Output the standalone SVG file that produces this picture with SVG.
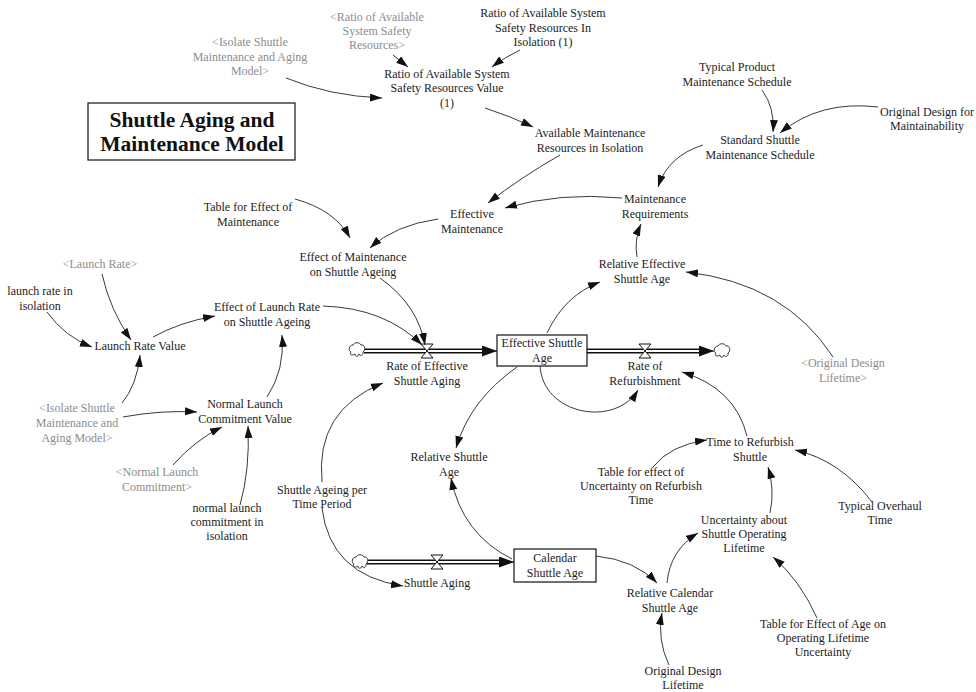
<svg xmlns="http://www.w3.org/2000/svg" width="976" height="692" viewBox="0 0 976 692" font-family="'Liberation Serif', 'Times New Roman', 'DejaVu Serif', serif">
<style>
.t{font-family:'Liberation Serif','Times New Roman','DejaVu Serif',serif;font-size:12px;fill:#1c1c1c;text-anchor:middle}
.g{fill:#8c8c8c}
.title{font-family:'Liberation Serif','Times New Roman','DejaVu Serif',serif;font-size:21.5px;font-weight:bold;fill:#111;text-anchor:middle}
.c{fill:none;stroke:#3a3a3a;stroke-width:1;marker-end:url(#ah)}
.pipeo{fill:none;stroke:#111;stroke-width:5}
.pipei{fill:none;stroke:#fff;stroke-width:2.2}
.box{fill:#fff;stroke:#111;stroke-width:1.2}
.valve{fill:#fff;stroke:#111;stroke-width:1}
.cloud{fill:#fff;stroke:#333;stroke-width:1}
</style>
<defs>
<marker id="ah" markerUnits="userSpaceOnUse" markerWidth="13" markerHeight="9" refX="12" refY="4" orient="auto">
<path d="M0,0 L12,4 L0,8 z" fill="#111"/>
</marker>
<marker id="fh" markerUnits="userSpaceOnUse" markerWidth="16" markerHeight="12" refX="15" refY="5.5" orient="auto">
<path d="M0,0 L15,5.5 L0,11 z" fill="#111"/>
</marker>
<path id="cl" d="M-6,2 C-9,1 -8,-5 -4,-5 C-3,-8 3,-8 4,-5 C8,-6 9,0 6,2 C7,5 3,7 2,4 C1,7 -2,7 -2,4 C-5,6 -8,5 -6,2 z"/>
<path id="vl" d="M-6,-7 L6,-7 L-6,7 L6,7 z"/>
</defs>
<rect width="976" height="692" fill="#fff"/>

<g id="title">
<rect x="88" y="103" width="207" height="57" fill="#fff" stroke="#111" stroke-width="1.2"/>
<text class="title" x="192" y="127">Shuttle Aging and</text>
<text class="title" x="192" y="151">Maintenance Model</text>
</g>

<g id="flows">
<line class="pipeo" x1="364" y1="351" x2="485" y2="351"/>
<line class="pipei" x1="362" y1="351" x2="487" y2="351"/>
<line x1="484" y1="351" x2="497" y2="351" stroke="#111" stroke-width="1" marker-end="url(#fh)"/>
<line class="pipeo" x1="587" y1="351" x2="700" y2="351"/>
<line class="pipei" x1="585" y1="351" x2="702" y2="351"/>
<line x1="699" y1="351" x2="714" y2="351" stroke="#111" stroke-width="1" marker-end="url(#fh)"/>
<line class="pipeo" x1="367" y1="562" x2="502" y2="562"/>
<line class="pipei" x1="365" y1="562" x2="504" y2="562"/>
<line x1="501" y1="562" x2="514" y2="562" stroke="#111" stroke-width="1" marker-end="url(#fh)"/>
<use href="#cl" class="cloud" x="357" y="350"/>
<use href="#cl" class="cloud" x="722" y="351"/>
<use href="#cl" class="cloud" x="360" y="562"/>
<use href="#vl" class="valve" x="427" y="351"/>
<use href="#vl" class="valve" x="645" y="351"/>
<use href="#vl" class="valve" x="437" y="562"/>
</g>

<g id="connectors">
<path class="c" d="M393,55 L408,67"/>
<path class="c" d="M520,50 Q505,57 492,67"/>
<path class="c" d="M286,78 Q330,96 382,98"/>
<path class="c" d="M485,108 Q510,116 533,127"/>
<path class="c" d="M560,155 Q520,178 488,203"/>
<path class="c" d="M622,198 Q560,192 505,208"/>
<path class="c" d="M703,145 Q668,156 658,187"/>
<path class="c" d="M762,90 Q775,108 773,132"/>
<path class="c" d="M878,107 Q820,100 780,133"/>
<path class="c" d="M637,257 Q634,240 641,224"/>
<path class="c" d="M547,333 Q565,295 600,282"/>
<path class="c" d="M833,357 Q785,283 686,272"/>
<path class="c" d="M540,365 C542,415 615,428 638,390"/>
<path class="c" d="M747,436 Q735,388 682,372"/>
<path class="c" d="M517,367 Q470,400 456,448"/>
<path class="c" d="M512,559 Q462,534 451,478"/>
<path class="c" d="M322,482 Q315,410 383,383"/>
<path class="c" d="M322,508 Q330,575 403,586"/>
<path class="c" d="M596,556 Q635,560 657,583"/>
<path class="c" d="M667,583 Q670,550 698,533"/>
<path class="c" d="M669,665 Q657,640 662,613"/>
<path class="c" d="M817,618 Q800,580 773,557"/>
<path class="c" d="M770,513 Q775,490 768,467"/>
<path class="c" d="M872,502 Q840,460 795,450"/>
<path class="c" d="M653,467 Q670,445 707,440"/>
<path class="c" d="M295,199 Q335,210 350,238"/>
<path class="c" d="M438,219 Q395,225 370,248"/>
<path class="c" d="M380,278 Q418,305 425,345"/>
<path class="c" d="M323,306 Q385,308 422,345"/>
<path class="c" d="M102,274 Q110,310 131,340"/>
<path class="c" d="M47,312 Q65,337 92,347"/>
<path class="c" d="M153,337 Q180,322 215,316"/>
<path class="c" d="M122,403 Q137,385 140,355"/>
<path class="c" d="M123,417 Q160,410 197,412"/>
<path class="c" d="M173,465 Q195,440 222,427"/>
<path class="c" d="M240,505 Q250,470 248,426"/>
<path class="c" d="M267,397 Q285,370 282,335"/>
</g>

<g id="ratio-shadow"><text class="t g" x="377" y="21"><tspan x="377">&lt;Ratio of Available</tspan><tspan x="377" dy="14">System Safety</tspan><tspan x="377" dy="14">Resources&gt;</tspan></text></g>
<g id="ratio-isolation"><text class="t" x="543" y="17"><tspan x="543">Ratio of Available System</tspan><tspan x="543" dy="14.5">Safety Resources In</tspan><tspan x="543" dy="14.5">Isolation (1)</tspan></text></g>
<g id="isolate-shadow-1"><text class="t g" x="250" y="46"><tspan x="250">&lt;Isolate Shuttle</tspan><tspan x="250" dy="14.5">Maintenance and Aging</tspan><tspan x="250" dy="14.5">Model&gt;</tspan></text></g>
<g id="ratio-value"><text class="t" x="447" y="78"><tspan x="447">Ratio of Available System</tspan><tspan x="447" dy="14">Safety Resources Value</tspan><tspan x="447" dy="14.5">(1)</tspan></text></g>
<g id="avail-maint"><text class="t" x="590" y="137"><tspan x="590">Available Maintenance</tspan><tspan x="590" dy="14.5">Resources in Isolation</tspan></text></g>
<g id="typical-product"><text class="t" x="737" y="71"><tspan x="737">Typical Product</tspan><tspan x="737" dy="15">Maintenance Schedule</tspan></text></g>
<g id="orig-design-maint"><text class="t" x="927" y="116"><tspan x="927">Original Design for</tspan><tspan x="927" dy="14">Maintainability</tspan></text></g>
<g id="standard-schedule"><text class="t" x="760" y="144"><tspan x="760">Standard Shuttle</tspan><tspan x="760" dy="14.5">Maintenance Schedule</tspan></text></g>
<g id="maint-req"><text class="t" x="655" y="203"><tspan x="655">Maintenance</tspan><tspan x="655" dy="14.5">Requirements</tspan></text></g>
<g id="effective-maint"><text class="t" x="472" y="218"><tspan x="472">Effective</tspan><tspan x="472" dy="15">Maintenance</tspan></text></g>
<g id="table-maint"><text class="t" x="248" y="211"><tspan x="248">Table for Effect of</tspan><tspan x="248" dy="14.5">Maintenance</tspan></text></g>
<g id="effect-maint"><text class="t" x="353" y="261"><tspan x="353">Effect of Maintenance</tspan><tspan x="353" dy="15">on Shuttle Ageing</tspan></text></g>
<g id="rel-eff-age"><text class="t" x="642" y="268"><tspan x="642">Relative Effective</tspan><tspan x="642" dy="15">Shuttle Age</tspan></text></g>
<g id="launch-rate-shadow"><text class="t g" x="100" y="268">&lt;Launch Rate&gt;</text></g>
<g id="launch-iso"><text class="t" x="40" y="295"><tspan x="40">launch rate in</tspan><tspan x="40" dy="14.5">isolation</tspan></text></g>
<g id="effect-launch"><text class="t" x="267" y="311"><tspan x="267">Effect of Launch Rate</tspan><tspan x="267" dy="14.5">on Shuttle Ageing</tspan></text></g>
<g id="launch-value"><text class="t" x="140" y="350">Launch Rate Value</text></g>
<g id="normal-launch-value"><text class="t" x="245" y="408"><tspan x="245">Normal Launch</tspan><tspan x="245" dy="15">Commitment Value</tspan></text></g>
<g id="isolate-shadow-2"><text class="t g" x="77" y="412"><tspan x="77">&lt;Isolate Shuttle</tspan><tspan x="77" dy="15">Maintenance and</tspan><tspan x="77" dy="15">Aging Model&gt;</tspan></text></g>
<g id="normal-launch-shadow"><text class="t g" x="157" y="476"><tspan x="157">&lt;Normal Launch</tspan><tspan x="157" dy="14.5">Commitment&gt;</tspan></text></g>
<g id="normal-launch-iso"><text class="t" x="227" y="512"><tspan x="227">normal launch</tspan><tspan x="227" dy="14">commitment in</tspan><tspan x="227" dy="14">isolation</tspan></text></g>
<g id="ageing-per-period"><text class="t" x="322" y="494"><tspan x="322">Shuttle Ageing per</tspan><tspan x="322" dy="14">Time Period</tspan></text></g>

<g id="effective-age">
<rect class="box" x="497" y="335" width="90" height="31"/>
<text class="t" x="542" y="347"><tspan x="542">Effective Shuttle</tspan><tspan x="542" dy="14.5">Age</tspan></text>
</g>
<g id="rate-eff-aging"><text class="t" x="427" y="370"><tspan x="427">Rate of Effective</tspan><tspan x="427" dy="15">Shuttle Aging</tspan></text></g>
<g id="rate-refurb"><text class="t" x="645" y="370"><tspan x="645">Rate of</tspan><tspan x="645" dy="15">Refurbishment</tspan></text></g>
<g id="orig-life-shadow"><text class="t g" x="843" y="367"><tspan x="843">&lt;Original Design</tspan><tspan x="843" dy="15">Lifetime&gt;</tspan></text></g>
<g id="rel-shuttle-age"><text class="t" x="449" y="461"><tspan x="449">Relative Shuttle</tspan><tspan x="449" dy="15">Age</tspan></text></g>
<g id="calendar-age">
<rect class="box" x="514" y="549" width="82" height="33"/>
<text class="t" x="555" y="562"><tspan x="555">Calendar</tspan><tspan x="555" dy="15">Shuttle Age</tspan></text>
</g>
<g id="shuttle-aging"><text class="t" x="437" y="587">Shuttle Aging</text></g>
<g id="time-refurb"><text class="t" x="750" y="446"><tspan x="750">Time to Refurbish</tspan><tspan x="750" dy="15">Shuttle</tspan></text></g>
<g id="table-uncert"><text class="t" x="641" y="476"><tspan x="641">Table for effect of</tspan><tspan x="641" dy="14">Uncertainty on Refurbish</tspan><tspan x="641" dy="14">Time</tspan></text></g>
<g id="typical-overhaul"><text class="t" x="880" y="510"><tspan x="880">Typical Overhaul</tspan><tspan x="880" dy="14">Time</tspan></text></g>
<g id="uncertainty"><text class="t" x="744" y="524"><tspan x="744">Uncertainty about</tspan><tspan x="744" dy="14">Shuttle Operating</tspan><tspan x="744" dy="14">Lifetime</tspan></text></g>
<g id="rel-cal-age"><text class="t" x="670" y="597"><tspan x="670">Relative Calendar</tspan><tspan x="670" dy="14.5">Shuttle Age</tspan></text></g>
<g id="table-age"><text class="t" x="823" y="628"><tspan x="823">Table for Effect of Age on</tspan><tspan x="823" dy="14">Operating Lifetime</tspan><tspan x="823" dy="14">Uncertainty</tspan></text></g>
<g id="orig-life"><text class="t" x="683" y="675"><tspan x="683">Original Design</tspan><tspan x="683" dy="14">Lifetime</tspan></text></g>
</svg>
